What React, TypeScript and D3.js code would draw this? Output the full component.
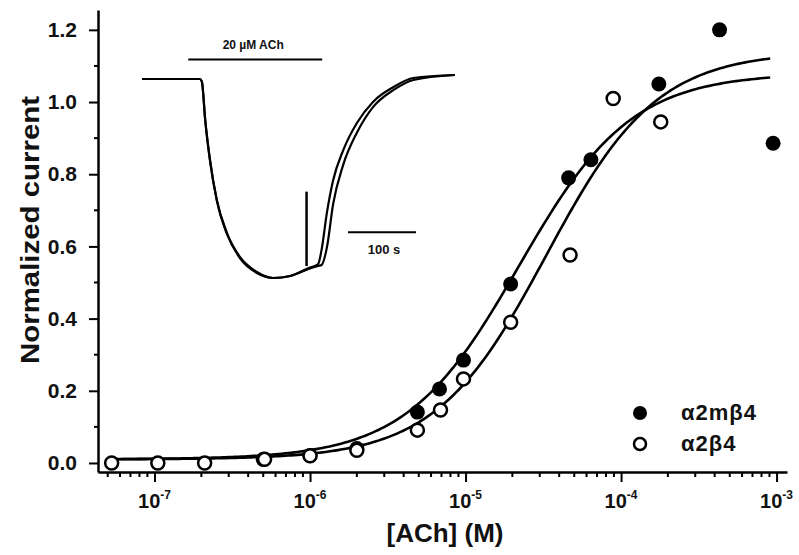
import * as React from 'react';
import * as d3 from 'd3';

// main plot
const yTicks = [0, 0.2, 0.4, 0.6, 0.8, 1.0, 1.2];
const xDecades = [1e-7, 1e-6, 1e-5, 1e-4, 1e-3];
const xExponents = ['-7', '-6', '-5', '-4', '-3'];

// alpha2m beta4 (filled)
const filledConc = [5e-7, 1e-6, 2e-6, 4.9e-6, 6.8e-6, 9.7e-6, 1.95e-5, 4.6e-5, 6.4e-5, 1.75e-4, 4.3e-4, 9.5e-4];
const filledResp = [0.01, 0.02, 0.04, 0.141, 0.205, 0.285, 0.496, 0.79, 0.84, 1.05, 1.2, 0.886];
// alpha2 beta4 (open)
const openConc = [5.3e-8, 1.05e-7, 2.1e-7, 5.1e-7, 1e-6, 2e-6, 4.9e-6, 6.9e-6, 9.7e-6, 1.95e-5, 4.7e-5, 8.9e-5, 1.8e-4];
const openResp = [0.0, 0.0, 0.0, 0.01, 0.02, 0.035, 0.091, 0.147, 0.233, 0.39, 0.576, 1.01, 0.945];

// Hill fits: bottom, top, EC50, slope
const filledFit = [0.01, 1.08, 2.2e-5, 1.2];
const openFit = [0.01, 1.14, 3.3e-5, 1.22];
const fitRange = [5e-8, 9.5e-4];

const legendNames = ['α2mβ4', 'α2β4'];

// inset current trace (time in s, normalized current)
const insetTime = [0, 85, 88, 93, 100, 110, 125, 144, 169, 193, 218, 245, 259, 264, 272, 281, 296, 316, 340, 370, 399, 460];
const insetTraceA = [0, 0, -0.013, -0.206, -0.407, -0.608, -0.774, -0.894, -0.97, -1.0, -0.99, -0.95, -0.93, -0.86, -0.67, -0.51, -0.357, -0.221, -0.114, -0.04, 0.005, 0.02];
const insetTraceB = [0, 0, -0.013, -0.21, -0.41, -0.61, -0.78, -0.9, -0.975, -1.0, -0.99, -0.955, -0.94, -0.935, -0.845, -0.63, -0.43, -0.27, -0.14, -0.055, -0.005, 0.02];
const insetSpike = [242, -0.566, -0.94];
const achBar = [68, 265, 0.098];
const achLabel = '20 µM ACh';
const scaleBar = [303, 403, -0.77];
const scaleLabel = '100 s';

const FONT = '"Liberation Sans", Arial, sans-serif';

function hill(p: number[], c: number) {
  return p[0] + (p[1] - p[0]) / (1 + Math.pow(p[2] / c, p[3]));
}

export default function App() {
  const ref = React.useRef<SVGSVGElement>(null);

  React.useEffect(() => {
    const svg = d3.select(ref.current);
    svg.selectAll('*').remove();

    const x = d3.scaleLog().domain([4.33e-8, 1.167e-3]).range([98, 787]);
    const y = d3.scaleLinear().domain([-0.025, 1.255]).range([472, 10]);

    // y axis
    const yAxis = d3.axisLeft(y).tickValues(yTicks).tickSize(9).tickSizeOuter(0)
      .tickPadding(12).tickFormat((d: any) => d3.format('.1f')(d));
    const gy = svg.append('g').attr('transform', 'translate(98,0)').call(yAxis);
    gy.select('.domain').attr('stroke-width', 2.5);
    gy.selectAll('.tick line').attr('stroke-width', 2);
    gy.selectAll('.tick text').attr('font-family', FONT).attr('font-weight', 'bold')
      .attr('font-size', 21).attr('fill', '#111');
    const yMinor = d3.range(0.1, 1.25, 0.2);
    gy.selectAll('.minor').data(yMinor).enter().append('line')
      .attr('x1', 0).attr('x2', -4).attr('y1', (d) => y(d)).attr('y2', (d) => y(d))
      .attr('stroke', '#000').attr('stroke-width', 2);

    // x axis
    const xAxis = d3.axisBottom(x).tickValues(xDecades).tickSize(10).tickSizeOuter(0)
      .tickFormat(() => '');
    const gx = svg.append('g').attr('transform', 'translate(0,472)').call(xAxis);
    gx.select('.domain').attr('stroke-width', 2.5);
    gx.selectAll('.tick line').attr('stroke-width', 2);
    const xMinor: number[] = [];
    [1e-8, 1e-7, 1e-6, 1e-5, 1e-4, 1e-3].forEach((dec) => {
      for (let m = 2; m <= 9; m++) {
        const v = dec * m;
        if (v > x.domain()[0] && v < x.domain()[1]) xMinor.push(v);
      }
    });
    gx.selectAll('.minor').data(xMinor).enter().append('line')
      .attr('x1', (d) => x(d)).attr('x2', (d) => x(d)).attr('y1', 0).attr('y2', 5)
      .attr('stroke', '#000').attr('stroke-width', 2);
    const xl = gx.selectAll('.xlab').data(xDecades).enter().append('text')
      .attr('x', (d) => x(d)).attr('y', 36).attr('text-anchor', 'middle')
      .attr('font-family', FONT).attr('font-weight', 'bold').attr('font-size', 20).attr('fill', '#111');
    xl.append('tspan').text('10');
    xl.append('tspan').attr('dy', -9).attr('font-size', 12).text((d, i) => xExponents[i]);

    // axis titles
    svg.append('text')
      .attr('transform', 'translate(39,230) rotate(-90)')
      .attr('text-anchor', 'middle')
      .attr('font-family', FONT).attr('font-weight', 'bold').attr('font-size', 26).attr('fill', '#111')
      .attr('textLength', 268).attr('lengthAdjust', 'spacingAndGlyphs')
      .text('Normalized current');
    svg.append('text')
      .attr('x', 445).attr('y', 542)
      .attr('text-anchor', 'middle')
      .attr('font-family', FONT).attr('font-weight', 'bold').attr('font-size', 26).attr('fill', '#111')
      .text('[ACh] (M)');

    // fitted curves
    const logs = d3.range(Math.log10(fitRange[0]), Math.log10(fitRange[1]) + 0.001, 0.02).map((l) => Math.pow(10, l));
    const line = d3.line<number>().x((c) => x(c));
    [filledFit, openFit].forEach((p) => {
      svg.append('path')
        .attr('d', line.y((c) => y(hill(p, c)))(logs))
        .attr('fill', 'none').attr('stroke', '#000').attr('stroke-width', 2.6);
    });

    // points
    svg.selectAll('.filled').data(filledConc).enter().append('circle')
      .attr('cx', (d) => x(d)).attr('cy', (d, i) => y(filledResp[i]))
      .attr('r', 7.5).attr('fill', '#000');
    svg.selectAll('.open').data(openConc).enter().append('circle')
      .attr('cx', (d) => x(d)).attr('cy', (d, i) => y(openResp[i]))
      .attr('r', 6.5).attr('fill', '#fff').attr('stroke', '#000').attr('stroke-width', 2.5);

    // legend
    const lg = svg.append('g');
    legendNames.forEach((name, i) => {
      const ly = 413 + i * 31;
      lg.append('circle').attr('cx', 640).attr('cy', ly)
        .attr('r', i === 0 ? 7 : 6).attr('fill', i === 0 ? '#000' : '#fff')
        .attr('stroke', '#000').attr('stroke-width', i === 0 ? 0 : 2.5);
      lg.append('text').attr('x', 681).attr('y', ly + 7)
        .attr('font-family', FONT).attr('font-weight', 'bold').attr('font-size', 22).attr('fill', '#111')
        .attr('letter-spacing', 1)
        .text(name);
    });

    // inset
    const tx = d3.scaleLinear().domain([0, 100]).range([142, 210]);
    const iy = d3.scaleLinear().domain([0, -1]).range([79, 278]);
    const traceLine = d3.line<number>().x((t) => tx(t)).curve(d3.curveMonotoneX);
    [insetTraceB, insetTraceA].forEach((tr) => {
      svg.append('path')
        .attr('d', traceLine.y((t, i) => iy(tr[i]))(insetTime))
        .attr('fill', 'none').attr('stroke', '#000').attr('stroke-width', 2.2);
    });
    svg.append('line')
      .attr('x1', tx(insetSpike[0])).attr('x2', tx(insetSpike[0]))
      .attr('y1', iy(insetSpike[1])).attr('y2', iy(insetSpike[2]))
      .attr('stroke', '#000').attr('stroke-width', 2.5);
    svg.append('line')
      .attr('x1', tx(achBar[0])).attr('x2', tx(achBar[1]))
      .attr('y1', iy(achBar[2])).attr('y2', iy(achBar[2]))
      .attr('stroke', '#000').attr('stroke-width', 2);
    svg.append('text')
      .attr('x', tx((achBar[0] + achBar[1]) / 2) - 2).attr('y', iy(achBar[2]) - 10)
      .attr('text-anchor', 'middle')
      .attr('font-family', FONT).attr('font-weight', 'bold').attr('font-size', 12).attr('fill', '#111')
      .text(achLabel);
    svg.append('line')
      .attr('x1', tx(scaleBar[0])).attr('x2', tx(scaleBar[1]))
      .attr('y1', iy(scaleBar[2])).attr('y2', iy(scaleBar[2]))
      .attr('stroke', '#000').attr('stroke-width', 2);
    svg.append('text')
      .attr('x', tx((scaleBar[0] + scaleBar[1]) / 2) + 2).attr('y', iy(scaleBar[2]) + 22)
      .attr('text-anchor', 'middle')
      .attr('font-family', FONT).attr('font-weight', 'bold').attr('font-size', 13).attr('fill', '#111')
      .text(scaleLabel);
  }, []);

  return (
    <svg ref={ref} width={799} height={555}
      style={{ position: 'absolute', left: 0, top: 0, background: '#fff' }} />
  );
}
